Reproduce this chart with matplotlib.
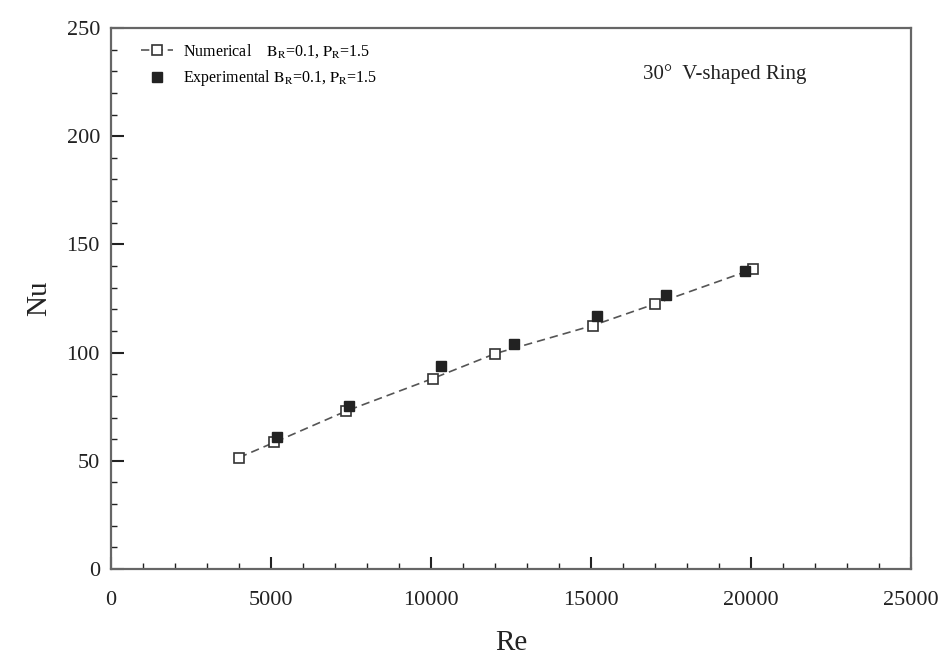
import matplotlib
matplotlib.use("Agg")
import matplotlib.pyplot as plt
from matplotlib.ticker import MultipleLocator

plt.rcParams["font.family"] = ["Liberation Serif", "DejaVu Serif"]
plt.rcParams["mathtext.fontset"] = "stix"

# Numerical predictions (open squares, dashed line)
re_num = [4000, 5100, 7350, 10050, 12000, 15050, 17000, 20050]
nu_num = [51.5, 58.5, 73, 88, 99.5, 112.5, 122.5, 138.5]

# Experimental measurements (filled squares)
re_exp = [5200, 7450, 10300, 12600, 15200, 17350, 19800]
nu_exp = [61, 75.5, 94, 104, 117, 126.5, 137.5]

x_ticks = [0, 5000, 10000, 15000, 20000, 25000]
y_ticks = [0, 50, 100, 150, 200, 250]

fig = plt.figure(figsize=(9.41, 6.55), dpi=100)
ax = fig.add_axes([111 / 941, 1 - 569 / 655, 800 / 941, 541 / 655])

ax.plot(re_num, nu_num, linestyle=(0, (5, 3)), color="#555555", linewidth=1.2,
        marker="s", markersize=7, markerfacecolor="white",
        markeredgecolor="#333333", markeredgewidth=1.2, zorder=2,
        label=r"Numerical    $\mathrm{B_R}$=0.1, $\mathrm{P_R}$=1.5")
ax.plot(re_exp, nu_exp, linestyle="none", marker="s", markersize=7,
        color="#222222", zorder=3,
        label=r"Experimental $\mathrm{B_R}$=0.1, $\mathrm{P_R}$=1.5")

ax.set_xlim(0, 25000)
ax.set_ylim(0, 250)
ax.set_xticks(x_ticks)
ax.set_yticks(y_ticks)
ax.xaxis.set_minor_locator(MultipleLocator(1000))
ax.yaxis.set_minor_locator(MultipleLocator(10))
ax.tick_params(which="both", direction="in", top=False, right=False,
               labelsize=16, colors="#222222")
ax.tick_params(axis="x", pad=16)
ax.tick_params(axis="y", pad=8)
ax.tick_params(which="major", length=9, width=1.5)
ax.tick_params(which="minor", length=4, width=1)
for sp in ax.spines.values():
    sp.set_color("#666666")
    sp.set_linewidth(1.6)

ax.set_xlabel("Re", fontsize=21, labelpad=14, color="#222222")
ax.set_ylabel("Nu", fontsize=21, labelpad=10, color="#222222")

ax.legend(loc="upper left", bbox_to_anchor=(0.03, 0.985), frameon=False,
          fontsize=11.5, handlelength=2.0, handletextpad=0.6, labelspacing=0.5,
          borderaxespad=0)

ax.text(0.665, 0.915, "30°  V-shaped Ring", transform=ax.transAxes,
        fontsize=15, color="#222222", ha="left", va="center")

fig.savefig("out.png", dpi=100, facecolor="white")
